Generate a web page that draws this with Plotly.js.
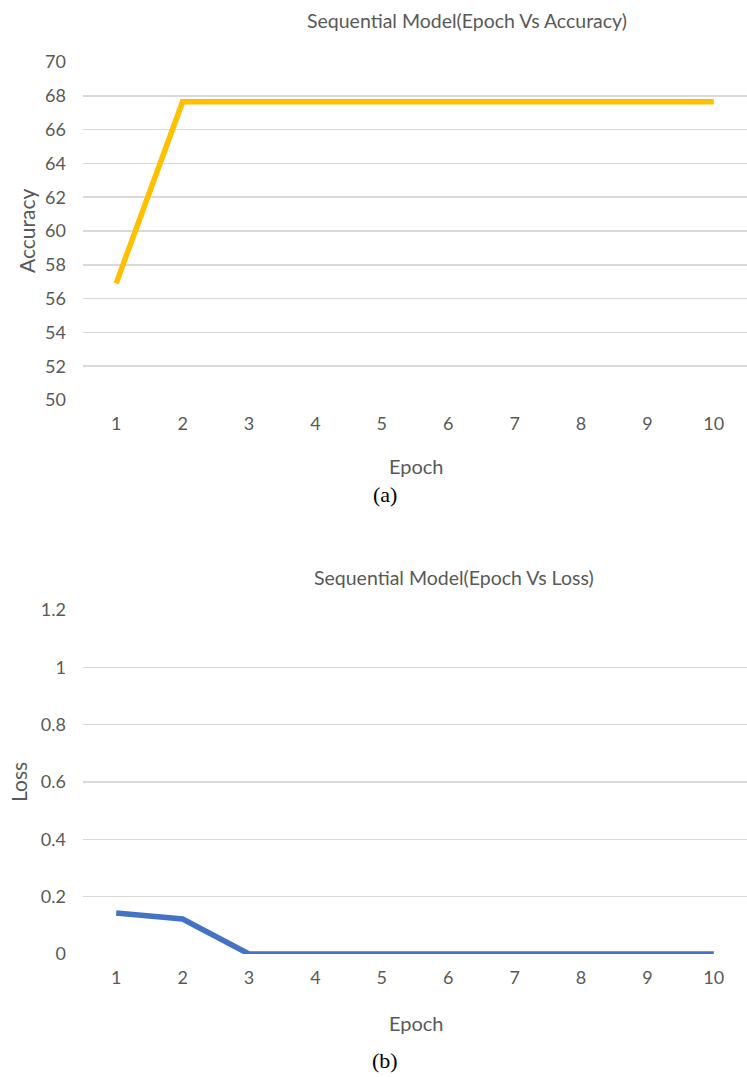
<!DOCTYPE html>
<html>
<head>
<meta charset="utf-8">
<script src="https://cdn.plot.ly/plotly-3.0.1.min.js"></script>
<style>
  html, body { margin: 0; padding: 0; background: #ffffff; }
  #chart { width: 747px; height: 1077px; }
</style>
</head>
<body>
<div id="chart"></div>
<script>
// ---- data ----
const epochs = [1, 2, 3, 4, 5, 6, 7, 8, 9, 10];
const accuracy = [56.9, 67.65, 67.65, 67.65, 67.65, 67.65, 67.65, 67.65, 67.65, 67.65];
const loss = [0.143, 0.122, 0, 0, 0, 0, 0, 0, 0, 0];
const accTicks = [50, 52, 54, 56, 58, 60, 62, 64, 66, 68, 70];
const lossTicks = [0, 0.2, 0.4, 0.6, 0.8, 1, 1.2];
const lossTickText = ['0', '0.2', '0.4', '0.6', '0.8', '1', '1.2'];

// ---- layout helpers ----
const W = 747, H = 1077;
const px = x => x / W;
const py = y => 1 - y / H;
const FONT = 'Lato, "Open Sans", sans-serif';
const GRAY = '#595959';
const GRID = '#d9d9d9';

const xAxisBase = {
  range: [0.5, 10.5],
  tickmode: 'array',
  tickvals: epochs,
  showgrid: false,
  zeroline: false,
  showline: false,
  ticks: '',
  ticklabelstandoff: 11,
  tickfont: { family: FONT, size: 18, color: GRAY },
  fixedrange: true
};
const yAxisBase = {
  showgrid: true,
  gridcolor: GRID,
  gridwidth: 1.5,
  zeroline: false,
  showline: false,
  ticks: '',
  ticklabelstandoff: 16,
  tickfont: { family: FONT, size: 18, color: GRAY },
  fixedrange: true
};

const traces = [
  {
    x: epochs, y: accuracy, type: 'scatter', mode: 'lines',
    line: { color: '#FFC000', width: 5.5 },
    xaxis: 'x', yaxis: 'y', hoverinfo: 'skip'
  },
  {
    x: epochs, y: loss, type: 'scatter', mode: 'lines',
    line: { color: '#4472C4', width: 5.5 },
    xaxis: 'x2', yaxis: 'y2', hoverinfo: 'skip'
  }
];

const layout = {
  width: W, height: H,
  margin: { l: 0, r: 0, t: 0, b: 0 },
  paper_bgcolor: '#ffffff',
  plot_bgcolor: '#ffffff',
  showlegend: false,
  xaxis: Object.assign({}, xAxisBase, { domain: [px(83), 1], anchor: 'y' }),
  yaxis: Object.assign({}, yAxisBase, {
    domain: [py(400), py(62)], range: [50, 70],
    tickmode: 'array', tickvals: accTicks, anchor: 'x'
  }),
  xaxis2: Object.assign({}, xAxisBase, { domain: [px(83), 1], anchor: 'y2' }),
  yaxis2: Object.assign({}, yAxisBase, {
    domain: [py(954), py(610)], range: [0, 1.2],
    tickmode: 'array', tickvals: lossTicks, ticktext: lossTickText, anchor: 'x2'
  }),
  annotations: [
    { text: 'Sequential Model(Epoch Vs Accuracy)', xref: 'paper', yref: 'paper',
      x: px(467), y: py(20), xanchor: 'center', yanchor: 'middle', showarrow: false,
      font: { family: FONT, size: 19.5, color: GRAY } },
    { text: 'Accuracy', xref: 'paper', yref: 'paper', textangle: -90,
      x: px(27), y: py(231), xanchor: 'center', yanchor: 'middle', showarrow: false,
      font: { family: FONT, size: 21, color: GRAY } },
    { text: 'Epoch', xref: 'paper', yref: 'paper',
      x: px(417), y: py(466), xanchor: 'center', yanchor: 'middle', showarrow: false,
      font: { family: FONT, size: 20, color: GRAY } },
    { text: '(a)', xref: 'paper', yref: 'paper',
      x: px(385), y: py(495), xanchor: 'center', yanchor: 'middle', showarrow: false,
      font: { family: '"Liberation Serif", "DejaVu Serif", serif', size: 22, color: '#000000' } },
    { text: 'Sequential Model(Epoch Vs Loss)', xref: 'paper', yref: 'paper',
      x: px(454), y: py(577), xanchor: 'center', yanchor: 'middle', showarrow: false,
      font: { family: FONT, size: 19.5, color: GRAY } },
    { text: 'Loss', xref: 'paper', yref: 'paper', textangle: -90,
      x: px(18), y: py(782), xanchor: 'center', yanchor: 'middle', showarrow: false,
      font: { family: FONT, size: 21, color: GRAY } },
    { text: 'Epoch', xref: 'paper', yref: 'paper',
      x: px(417), y: py(1023), xanchor: 'center', yanchor: 'middle', showarrow: false,
      font: { family: FONT, size: 20, color: GRAY } },
    { text: '(b)', xref: 'paper', yref: 'paper',
      x: px(385), y: py(1060), xanchor: 'center', yanchor: 'middle', showarrow: false,
      font: { family: '"Liberation Serif", "DejaVu Serif", serif', size: 22, color: '#000000' } }
  ]
};

Plotly.newPlot('chart', traces, layout, { displayModeBar: false, staticPlot: true });
</script>
</body>
</html>
